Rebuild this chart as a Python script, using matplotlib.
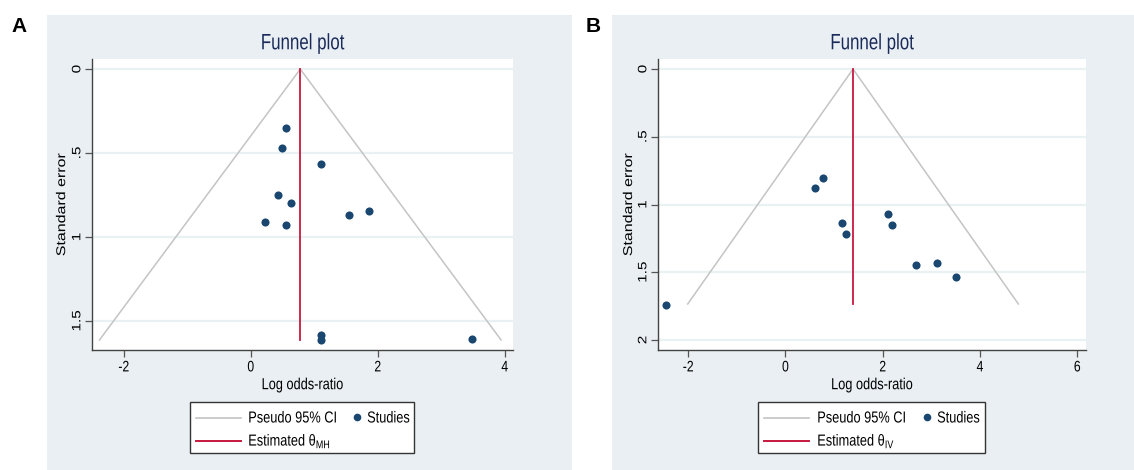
import numpy as np
import matplotlib.pyplot as plt
from matplotlib.patches import Rectangle
from matplotlib.lines import Line2D
from matplotlib.patheffects import AbstractPathEffect
from matplotlib.transforms import Affine2D

plt.rcParams['font.family'] = ['Liberation Sans', 'DejaVu Sans']

# panel A: Mantel-Haenszel
a_lor = [0.56, 0.49, 1.10, 0.425, 0.63, 1.55, 1.86, 0.225, 0.56, 1.10, 1.10, 3.48]
a_se = [0.351, 0.472, 0.565, 0.748, 0.80, 0.871, 0.843, 0.909, 0.929, 1.583, 1.613, 1.609]
a_theta = 0.78
a_se_max = 1.613

# panel B: inverse variance
b_lor = [-2.46, 0.60, 0.77, 1.17, 1.25, 2.10, 2.20, 2.68, 3.11, 3.50]
b_se = [1.74, 0.876, 0.804, 1.134, 1.220, 1.070, 1.154, 1.446, 1.434, 1.537]
b_theta = 1.39
b_se_max = 1.734

W, H = 1134, 470
bg = '#e9eff2'
navy = '#1a476f'
red = '#c8183f'
grey = '#c4c4c4'


class Condense(AbstractPathEffect):
    """Squeeze drawn text horizontally on the page (narrow sans look)."""

    def __init__(self, sx=0.8, anchor='center'):
        super().__init__()
        self.sx = sx
        self.anchor = anchor

    def draw_path(self, renderer, gc, tpath, affine, rgbFace=None):
        ext = tpath.transformed(affine).get_extents()
        cx = 0.5 * (ext.x0 + ext.x1) if self.anchor == 'center' else ext.x0
        t = affine + Affine2D().translate(-cx, 0).scale(self.sx, 1).translate(cx, 0)
        renderer.draw_path(gc, tpath, t, rgbFace)


narrow = [Condense(0.8)]

fig = plt.figure(figsize=(W / 100, H / 100), dpi=100)


def fx(x):
    return x / W


def fy(y):
    return 1 - y / H


def px_rect(x0, y0, x1, y1):
    return [fx(x0), fy(y1), (x1 - x0) / W, (y1 - y0) / H]


def legend_box(box, est_label):
    x0, y0, x1, y1, lx0, lx1, tx, dx, sx = box
    fig.patches.append(Rectangle((fx(x0), fy(y1)), (x1 - x0) / W, (y1 - y0) / H,
                                 transform=fig.transFigure, facecolor='white',
                                 edgecolor='#333333', lw=1.0, zorder=5))
    r1, r2 = y0 + 16, y0 + 39
    fig.add_artist(Line2D([fx(lx0), fx(lx1)], [fy(r1), fy(r1)], color=grey,
                          lw=1.2, zorder=6))
    fig.add_artist(Line2D([fx(lx0), fx(lx1)], [fy(r2), fy(r2)], color=red,
                          lw=1.4, zorder=6))
    fig.add_artist(Line2D([fx(dx)], [fy(r1 - 1)], marker='o', ms=5.5, color=navy,
                          mec='none', zorder=6))
    left = [Condense(0.8, 'left')]
    fig.text(fx(tx), fy(r1), 'Pseudo 95% CI', fontsize=11.5, va='center',
             path_effects=left, zorder=6)
    fig.text(fx(tx), fy(r2), est_label, fontsize=11.5, va='center',
             path_effects=left, zorder=6)
    fig.text(fx(sx), fy(r1), 'Studies', fontsize=11.5, va='center',
             path_effects=left, zorder=6)


def funnel(box, bg_box, lor, se, theta, se_max, xlim, ylim, xticks, yticks,
           ytlabels, est_label, leg, ylab_x, letter, letter_x):
    x0, y0, x1, y1 = bg_box
    fig.patches.append(Rectangle((fx(x0), fy(y1)), (x1 - x0) / W, (y1 - y0) / H,
                                 transform=fig.transFigure, facecolor=bg,
                                 edgecolor='none', zorder=-5))
    ax = fig.add_axes(px_rect(*box))
    ax.set_facecolor('white')
    for yt in yticks:
        ax.axhline(yt, color='#eaf1f3', lw=1.6, zorder=0)
    z = 1.96
    ax.plot([theta - z * se_max, theta, theta + z * se_max],
            [se_max, 0, se_max], color=grey, lw=1.1, zorder=1)
    ax.plot([theta, theta], [0, se_max], color=red, lw=1.3, zorder=2)
    ax.scatter(lor, se, s=34, color=navy, zorder=3, linewidths=0)
    ax.set_xlim(*xlim)
    ax.set_ylim(*ylim)
    ax.set_xticks(xticks)
    ax.set_xticklabels([str(t) for t in xticks])
    ax.set_yticks(yticks)
    ax.set_yticklabels(ytlabels, rotation=90, va='center')
    ax.tick_params(labelsize=11, color='#555555', length=5, width=0.9, pad=2.5)
    ax.tick_params(axis='y', pad=0.5)
    for lab in ax.get_xticklabels() + ax.get_yticklabels():
        lab.set_path_effects(narrow)
    for s in ['top', 'right']:
        ax.spines[s].set_visible(False)
    for s in ['left', 'bottom']:
        ax.spines[s].set_color('#444444')
        ax.spines[s].set_linewidth(1.0)
    ax.set_xlabel('Log odds-ratio', fontsize=11.5, labelpad=2,
                  path_effects=narrow)
    ax.set_ylabel('Standard error', fontsize=11.5, path_effects=narrow)
    ax.yaxis.set_label_coords(ylab_x, 0.5)
    ax.set_title('Funnel plot', fontsize=16, color='#1a2a5a', pad=7,
                 path_effects=[Condense(0.76)])

    legend_box(leg, est_label)
    fig.text(fx(letter_x), fy(26), letter, fontsize=15, fontweight='bold',
             family='Liberation Sans', ha='center', va='center')
    return ax


funnel((92, 59, 513, 350), (47, 15, 572, 470), a_lor, a_se, a_theta, a_se_max,
       (-2.50, 4.13), (1.673, -0.06), [-2, 0, 2, 4], [0, 0.5, 1, 1.5],
       ['0', '.5', '1', '1.5'], r'Estimated θ$_{\mathregular{MH}}$',
       (190, 402, 414, 453, 196, 241, 248, 357, 367), -0.054, 'A', 19)

funnel((658, 59, 1086, 350), (612, 15, 1134, 470), b_lor, b_se, b_theta, b_se_max,
       (-2.62, 6.18), (2.074, -0.074), [-2, 0, 2, 4, 6], [0, 0.5, 1, 1.5, 2],
       ['0', '.5', '1', '1.5', '2'], r'Estimated θ$_{\mathregular{IV}}$',
       (758, 402, 985, 453, 764, 809, 817, 927, 937), -0.051, 'B', 593)

fig.savefig('out.png', dpi=100)
